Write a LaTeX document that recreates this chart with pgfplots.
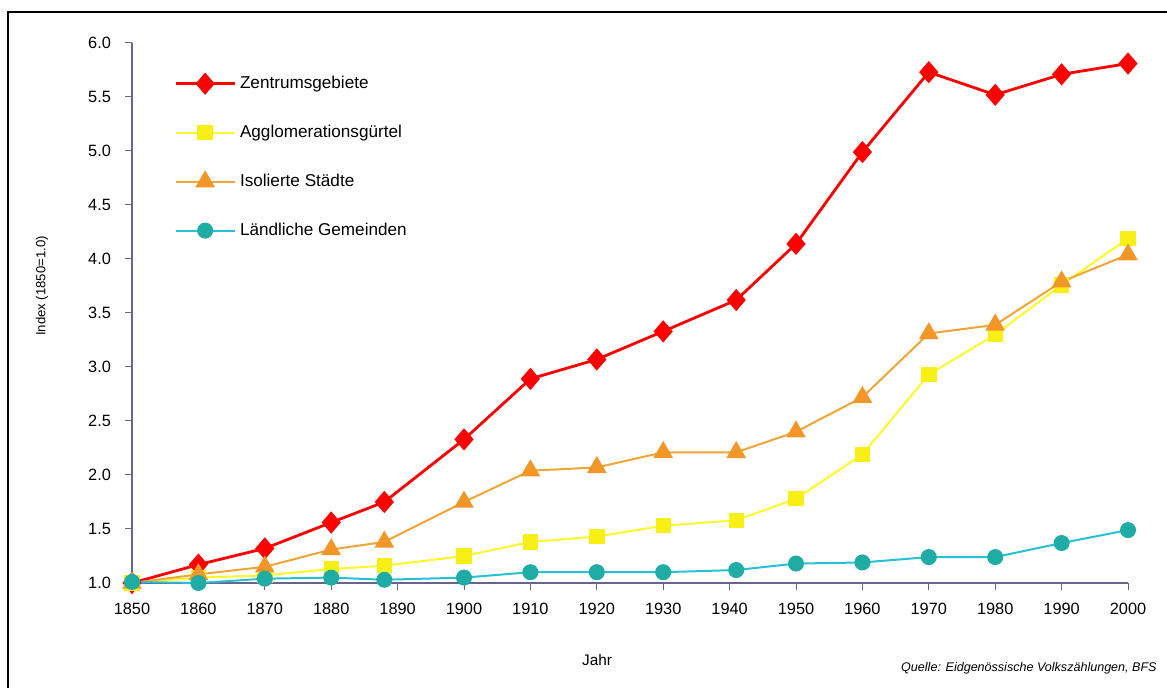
\documentclass[border=0pt]{standalone}
\usepackage{fontspec}
\setmainfont{Liberation Sans}
\usepackage{pgfplots}
\usepackage{pgfplotstable}
\pgfplotsset{compat=1.18}
\definecolor{cred}{RGB}{255,0,0}
\definecolor{cyel}{RGB}{248,240,20}
\definecolor{cyelline}{RGB}{255,248,40}
\definecolor{corange}{RGB}{242,150,40}
\definecolor{corline}{RGB}{240,165,55}
\definecolor{cteal}{RGB}{30,172,165}
\definecolor{ccyan}{RGB}{40,192,212}
\definecolor{caxis}{RGB}{105,100,140}

\pgfplotstableread{
year zen  agg  iso  lan
1850 1.00 1.00 1.00 1.01
1860 1.17 1.05 1.08 1.00
1870 1.32 1.07 1.15 1.04
1880 1.56 1.13 1.31 1.05
1888 1.75 1.16 1.38 1.03
1900 2.33 1.25 1.75 1.05
1910 2.89 1.38 2.04 1.10
1920 3.07 1.43 2.07 1.10
1930 3.33 1.53 2.21 1.10
1941 3.62 1.58 2.21 1.12
1950 4.14 1.78 2.40 1.18
1960 4.99 2.19 2.72 1.19
1970 5.73 2.93 3.31 1.24
1980 5.52 3.30 3.39 1.24
1990 5.71 3.76 3.79 1.37
2000 5.81 4.19 4.04 1.49
}\data

\begin{document}
\begin{tikzpicture}
\useasboundingbox (0,0) rectangle (583.5bp,344bp);
\draw[line width=1bp] (4bp,-3bp) -- (4bp,338bp) -- (590bp,338bp);
\begin{axis}[
  at={(66bp,52.5bp)}, anchor=south west,
  scale only axis, width=498bp, height=270bp,
  xmin=1850, xmax=2000, ymin=1, ymax=6,
  clip=false,
  axis lines*=left,
  axis line style={caxis, line width=0.6bp},
  xtick={1850,1860,...,2000},
  ytick={1,1.5,...,6},
  tick align=outside,
  major tick length=3.5bp,
  tick style={caxis, line width=0.5bp},
  tick label style={font=\fontsize{8.2}{10}\selectfont, /pgf/number format/assume math mode=true},
  xticklabel style={/pgf/number format/1000 sep={}, yshift=-3bp},
  yticklabel style={/pgf/number format/.cd, fixed, fixed zerofill, precision=1, /tikz/xshift=-3.5bp},
  ylabel={Index (1850=1.0)},
  ylabel style={at={(axis description cs:-0.0904,0.55)}, anchor=center, font=\fontsize{6.6}{8}\selectfont},
  xlabel={Jahr},
  xlabel style={at={(axis description cs:0.467,-0.1426)}, anchor=center, font=\fontsize{7.7}{9}\selectfont},
  legend style={at={(axis description cs:0.042,0.947)}, anchor=north west, draw=none, fill=none,
    font=\fontsize{8.6}{10}\selectfont, row sep=12.8bp, inner sep=0pt},
  legend cell align=left,
  legend image code/.code={\draw[mark repeat=2,mark phase=2,#1] plot coordinates {(0bp,0bp) (14.75bp,0bp) (29.5bp,0bp)};},
]
\addplot[cred, line width=1.4bp, mark=diamond*, mark size=4.5bp, mark options={xscale=1.15, fill=cred, draw=cred, solid}] table[x=year, y=zen] {\data};
\addlegendentry{Zentrumsgebiete}
\addplot[cyelline, line width=1bp, mark=square*, mark size=3.35bp, mark options={fill=cyel, draw=cyel, solid}] table[x=year, y=agg] {\data};
\addlegendentry{Agglomerationsgürtel}
\addplot[corline, line width=1bp, mark=triangle*, mark size=4.7bp, mark options={fill=corange, draw=corange, solid}] table[x=year, y=iso] {\data};
\addlegendentry{Isolierte Städte}
\addplot[ccyan, line width=1bp, mark=*, mark size=3.5bp, mark options={fill=cteal, draw=cteal, solid}] table[x=year, y=lan] {\data};
\addlegendentry{Ländliche Gemeinden}
\end{axis}
\node[anchor=east, font=\fontsize{6.3}{8}\selectfont\itshape, inner sep=0pt] at (578.5bp,10bp) {Quelle: Eidgenössische Volkszählungen, BFS};
\end{tikzpicture}
\end{document}
